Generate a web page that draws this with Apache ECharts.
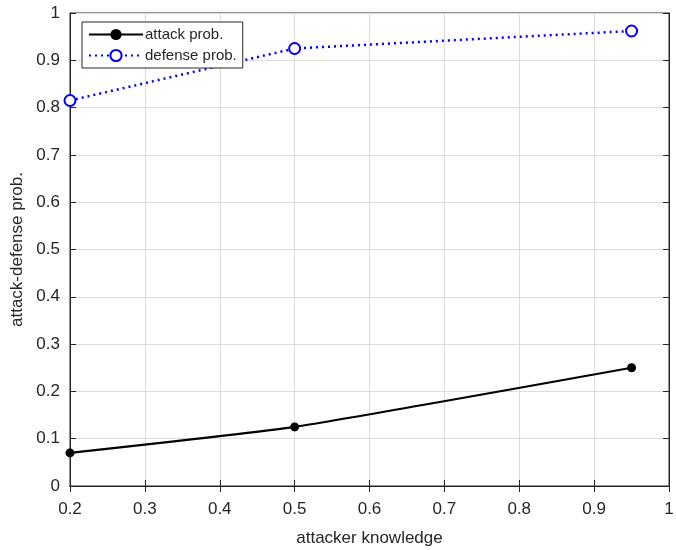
<!DOCTYPE html>
<html>
<head>
  <meta charset="utf-8">
  <title>attack-defense prob.</title>
  <script src="https://cdn.jsdelivr.net/npm/echarts@6/dist/echarts.min.js"></script>
  <style>
    html, body { margin: 0; padding: 0; background: #fff; }
    #chart-box { width: 676px; height: 550px; }
  </style>
</head>
<body>
  <div id="chart-box"></div>
  <script>
    // attacker knowledge
    var knowledge = [0.2, 0.5, 0.95];
    var attackProb = [0.07, 0.125, 0.25];
    var defenseProb = [0.815, 0.925, 0.962];
    var seriesNames = ['attack prob.', 'defense prob.'];

    var chart = echarts.init(document.querySelector('#chart-box'));
    var textColor = '#262626';
    var font = 'Liberation Sans, Arial, sans-serif';

    function pairs(xs, ys) {
      return xs.map(function (x, i) { return [x, ys[i]]; });
    }

    var inTick = { show: true, inside: true, length: 6, lineStyle: { color: textColor } };

    var options = {
      animation: false,
      grid: {
        left: 70, right: 7, top: 13, bottom: 64,
        outerBoundsMode: 'none', containLabel: false,
        show: true, borderColor: textColor, borderWidth: 1
      },
      legend: {
        left: 82, top: 22,
        orient: 'vertical',
        backgroundColor: '#fff',
        borderColor: textColor, borderWidth: 1,
        padding: [5, 6, 5, 6],
        itemGap: 6,
        itemWidth: 54, itemHeight: 14,
        textStyle: { fontFamily: font, fontSize: 15, color: textColor, padding: [0, 0, 0, -3] },
        data: seriesNames
      },
      xAxis: [{
        type: 'value', min: 0.2, max: 1, interval: 0.1,
        name: 'attacker knowledge', nameLocation: 'middle', nameGap: 44,
        nameTextStyle: { fontFamily: font, fontSize: 17, color: textColor },
        axisLine: { show: true, onZero: false, lineStyle: { color: textColor } },
        axisTick: inTick,
        axisLabel: {
          fontFamily: font, fontSize: 17, color: textColor, margin: 15,
          formatter: function (v) { return +v.toFixed(1) + ''; }
        },
        splitLine: { show: true, lineStyle: { color: '#dcdcdc' } }
      }, {
        type: 'value', min: 0.2, max: 1, interval: 0.1, position: 'top',
        axisLine: { show: true, lineStyle: { color: textColor } },
        axisTick: inTick, axisLabel: { show: false }, splitLine: { show: false }
      }],
      yAxis: [{
        type: 'value', min: 0, max: 1, interval: 0.1,
        name: 'attack-defense prob.', nameLocation: 'middle', nameGap: 43,
        nameTextStyle: { fontFamily: font, fontSize: 17, color: textColor },
        axisLine: { show: true, lineStyle: { color: textColor } },
        axisTick: inTick,
        axisLabel: {
          fontFamily: font, fontSize: 17, color: textColor, margin: 10,
          formatter: function (v) { return +v.toFixed(1) + ''; }
        },
        splitLine: { show: true, lineStyle: { color: '#dcdcdc' } }
      }, {
        type: 'value', min: 0, max: 1, interval: 0.1, position: 'right',
        axisLine: { show: true, lineStyle: { color: textColor } },
        axisTick: inTick, axisLabel: { show: false }, splitLine: { show: false }
      }],
      series: [{
        name: seriesNames[0],
        type: 'line',
        data: pairs(knowledge, attackProb),
        smooth: 0.15,
        symbol: 'circle', symbolSize: 9,
        itemStyle: { color: '#000' },
        lineStyle: { color: '#000', width: 2.2 }
      }, {
        name: seriesNames[1],
        type: 'line',
        data: pairs(knowledge, defenseProb),
        symbol: 'emptyCircle', symbolSize: 11,
        itemStyle: { color: '#0000ff', borderColor: '#0000ff', borderWidth: 2.5 },
        lineStyle: { color: '#0000ff', width: 2.5, type: [2, 4] }
      }]
    };

    chart.setOption(options);
  </script>
</body>
</html>
